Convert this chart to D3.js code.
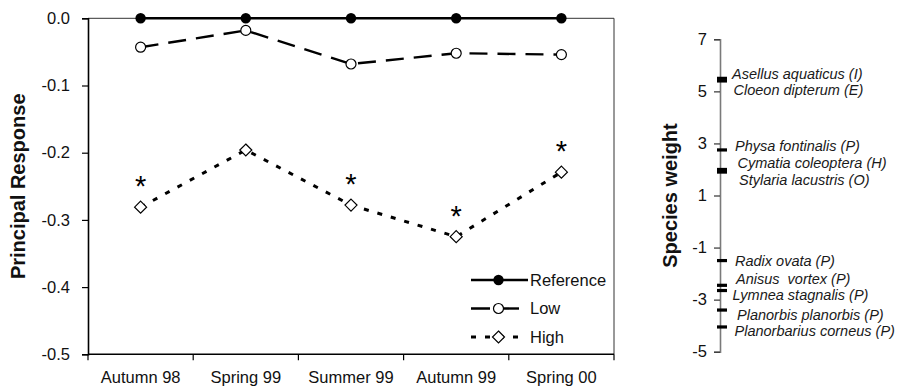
<!DOCTYPE html>
<html>
<head>
<meta charset="utf-8">
<script src="https://cdn.jsdelivr.net/npm/d3@7"></script>
<style>
  html, body { margin: 0; padding: 0; background: #fff; }
  svg { display: block; font-family: "Liberation Sans", Arial, sans-serif; }
</style>
</head>
<body>
<svg id="chart" width="897" height="387"></svg>
<script>
// Sampling occasions and principal response curves per treatment
const seasons = ["Autumn 98", "Spring 99", "Summer 99", "Autumn 99", "Spring 00"];
const referenceResp = [0, 0, 0, 0, 0];
const lowResp = [-0.043, -0.018, -0.068, -0.052, -0.054];
const highResp = [-0.281, -0.196, -0.278, -0.325, -0.229];
const highSignificant = [true, false, true, true, true];
const responseTicks = [0, -0.1, -0.2, -0.3, -0.4, -0.5];

// Species weights on the first principal response
const species = ["Asellus aquaticus (I)", "Cloeon dipterum (E)", "Physa fontinalis (P)",
  "Cymatia coleoptera (H)", "Stylaria lacustris (O)", "Radix ovata (P)",
  "Anisus  vortex (P)", "Lymnea stagnalis (P)", "Planorbis planorbis (P)",
  "Planorbarius corneus (P)"];
const speciesWeight = [5.5, 5.4, 2.75, 2.0, 1.9, -1.5, -2.45, -2.65, -3.4, -4.05];
const weightTicks = [7, 5, 3, 1, -1, -3, -5];

// Label placement (pixel nudges so neighbouring names do not collide)
const labelLayout = [
  {x: 732, dy: -4.5}, {x: 733.5, dy: 8.5}, {x: 735, dy: -4},
  {x: 737.5, dy: -7}, {x: 739, dy: 8}, {x: 735, dy: 0},
  {x: 736, dy: -6}, {x: 732.5, dy: 4}, {x: 737, dy: 4.5}, {x: 734.5, dy: 3.5}
];

const svg = d3.select("#chart");
const hyphen = f => v => f(v).replace("\u2212", "-");
const FS = 16.5;

// ---------- Principal response panel ----------
const L = {left: 88, right: 614, top: 18.3, bottom: 354.3};
const x = d3.scaleBand().domain(seasons).range([L.left, L.right]);
const y = d3.scaleLinear().domain([-0.5, 0]).range([L.bottom, L.top]);
const cx = s => x(s) + x.bandwidth() / 2;

// thin frame on top and right
svg.append("path")
  .attr("d", `M${L.left},${L.top}H${L.right}V${L.bottom}`)
  .attr("fill", "none").attr("stroke", "#333").attr("stroke-width", 1);

const yAxis = svg.append("g")
  .attr("transform", `translate(${L.left},0)`)
  .call(d3.axisLeft(y).tickValues(responseTicks).tickFormat(hyphen(d3.format(".1f")))
    .tickSize(6).tickPadding(12));
yAxis.select(".domain").attr("stroke", "#000").attr("stroke-width", 1.6);
yAxis.selectAll(".tick line").attr("stroke", "#000").attr("stroke-width", 1.2);
yAxis.selectAll("text").attr("font-size", FS).attr("fill", "#111")
  .attr("font-family", "Liberation Sans, Arial, sans-serif");

const xAxis = svg.append("g")
  .attr("transform", `translate(0,${L.bottom})`)
  .call(d3.axisBottom(x).tickSize(0).tickPadding(16.5));
xAxis.select(".domain").remove();
xAxis.selectAll("text").attr("font-size", FS).attr("fill", "#111")
  .attr("font-family", "Liberation Sans, Arial, sans-serif");
svg.append("line")
  .attr("x1", L.left).attr("x2", L.right).attr("y1", L.bottom).attr("y2", L.bottom)
  .attr("stroke", "#000").attr("stroke-width", 1.6);
// category boundary ticks
svg.append("g").selectAll("line")
  .data(seasons.map(s => x(s)).concat([x.range()[1]]))
  .join("line")
  .attr("x1", d => d).attr("x2", d => d)
  .attr("y1", L.bottom).attr("y2", L.bottom + 6)
  .attr("stroke", "#000").attr("stroke-width", 1.2);

svg.append("text")
  .attr("transform", `translate(25,${(L.top + L.bottom) / 2}) rotate(-90)`)
  .attr("text-anchor", "middle")
  .attr("font-size", 20).attr("font-weight", "bold").attr("fill", "#111")
  .text("Principal Response");

const line = d3.line().x(d => cx(d.s)).y(d => y(d.v));
const pts = vals => seasons.map((s, i) => ({s, v: vals[i]}));

const styles = {
  Reference: {dash: null, width: 2.6},
  Low: {dash: "18,10", width: 2.4},
  High: {dash: "5,9", width: 3}
};

function diamondPath(cxp, cyp, r) {
  return `M${cxp},${cyp - r}L${cxp + r},${cyp}L${cxp},${cyp + r}L${cxp - r},${cyp}Z`;
}

// High
svg.append("path").datum(pts(highResp)).attr("d", line)
  .attr("fill", "none").attr("stroke", "#000")
  .attr("stroke-width", styles.High.width).attr("stroke-dasharray", styles.High.dash);
svg.append("g").selectAll("path").data(pts(highResp)).join("path")
  .attr("d", d => diamondPath(cx(d.s), y(d.v), 6))
  .attr("fill", "#fff").attr("stroke", "#000").attr("stroke-width", 1.2);
svg.append("g").selectAll("text")
  .data(pts(highResp).filter((d, i) => highSignificant[i])).join("text")
  .attr("x", d => cx(d.s)).attr("y", d => y(d.v) - 11)
  .attr("text-anchor", "middle").attr("font-size", 29).attr("fill", "#000")
  .text("*");

// Low
svg.append("path").datum(pts(lowResp)).attr("d", line)
  .attr("fill", "none").attr("stroke", "#000")
  .attr("stroke-width", styles.Low.width).attr("stroke-dasharray", styles.Low.dash);
svg.append("g").selectAll("circle").data(pts(lowResp)).join("circle")
  .attr("cx", d => cx(d.s)).attr("cy", d => y(d.v)).attr("r", 5)
  .attr("fill", "#fff").attr("stroke", "#000").attr("stroke-width", 1.2);

// Reference
svg.append("path").datum(pts(referenceResp)).attr("d", line)
  .attr("fill", "none").attr("stroke", "#000").attr("stroke-width", styles.Reference.width);
svg.append("g").selectAll("circle").data(pts(referenceResp)).join("circle")
  .attr("cx", d => cx(d.s)).attr("cy", d => y(d.v)).attr("r", 5.2)
  .attr("fill", "#000");

// Legend
const legend = svg.append("g");
const legendRows = ["Reference", "Low", "High"];
const legendEnd = {Reference: 528, Low: 519, High: 524};
legendRows.forEach((name, i) => {
  const ly = 280 + i * 28.5, x0 = 471, mx = 498.5;
  const g = legend.append("g");
  g.append("line").attr("x1", x0).attr("x2", legendEnd[name]).attr("y1", ly).attr("y2", ly)
    .attr("stroke", "#000").attr("stroke-width", styles[name].width)
    .attr("stroke-dasharray", name === "Low" ? "19,12" : styles[name].dash);
  if (name === "Reference") {
    g.append("circle").attr("cx", mx).attr("cy", ly).attr("r", 5.2).attr("fill", "#000");
  } else if (name === "Low") {
    g.append("circle").attr("cx", mx).attr("cy", ly).attr("r", 5)
      .attr("fill", "#fff").attr("stroke", "#000").attr("stroke-width", 1.2);
  } else {
    g.append("path").attr("d", diamondPath(mx, ly, 6))
      .attr("fill", "#fff").attr("stroke", "#000").attr("stroke-width", 1.2);
  }
  g.append("text").attr("x", 530).attr("y", ly).attr("dy", "0.35em")
    .attr("font-size", FS).attr("fill", "#111").text(name);
});

// ---------- Species weight panel ----------
const ax = 720;
const yw = d3.scaleLinear().domain([-5, 7]).range([351.7, 39.3]);
const wAxis = svg.append("g")
  .attr("transform", `translate(${ax},0)`)
  .call(d3.axisLeft(yw).tickValues(weightTicks).tickFormat(hyphen(d3.format("d")))
    .tickSize(6).tickPadding(7));
wAxis.select(".domain").attr("stroke", "#7a7a7a").attr("stroke-width", 1.6);
wAxis.selectAll(".tick line").attr("stroke", "#333").attr("stroke-width", 1.2);
wAxis.selectAll("text").attr("font-size", FS).attr("fill", "#111")
  .attr("font-family", "Liberation Sans, Arial, sans-serif");

svg.append("text")
  .attr("transform", `translate(677,${(yw(7) + yw(-5)) / 2}) rotate(-90)`)
  .attr("text-anchor", "middle")
  .attr("font-size", 20).attr("font-weight", "bold").attr("fill", "#111")
  .text("Species weight");

svg.append("g").selectAll("rect").data(speciesWeight).join("rect")
  .attr("x", ax - 3).attr("width", 10)
  .attr("y", d => yw(d) - 1.6).attr("height", 3.2)
  .attr("fill", "#000");

svg.append("g").selectAll("text").data(species).join("text")
  .attr("x", (d, i) => labelLayout[i].x)
  .attr("y", (d, i) => yw(speciesWeight[i]) + labelLayout[i].dy)
  .attr("dy", "0.35em")
  .attr("font-size", 14.5).attr("font-style", "italic").attr("fill", "#1a1a1a")
  .style("white-space", "pre")
  .text(d => d);
</script>
</body>
</html>
